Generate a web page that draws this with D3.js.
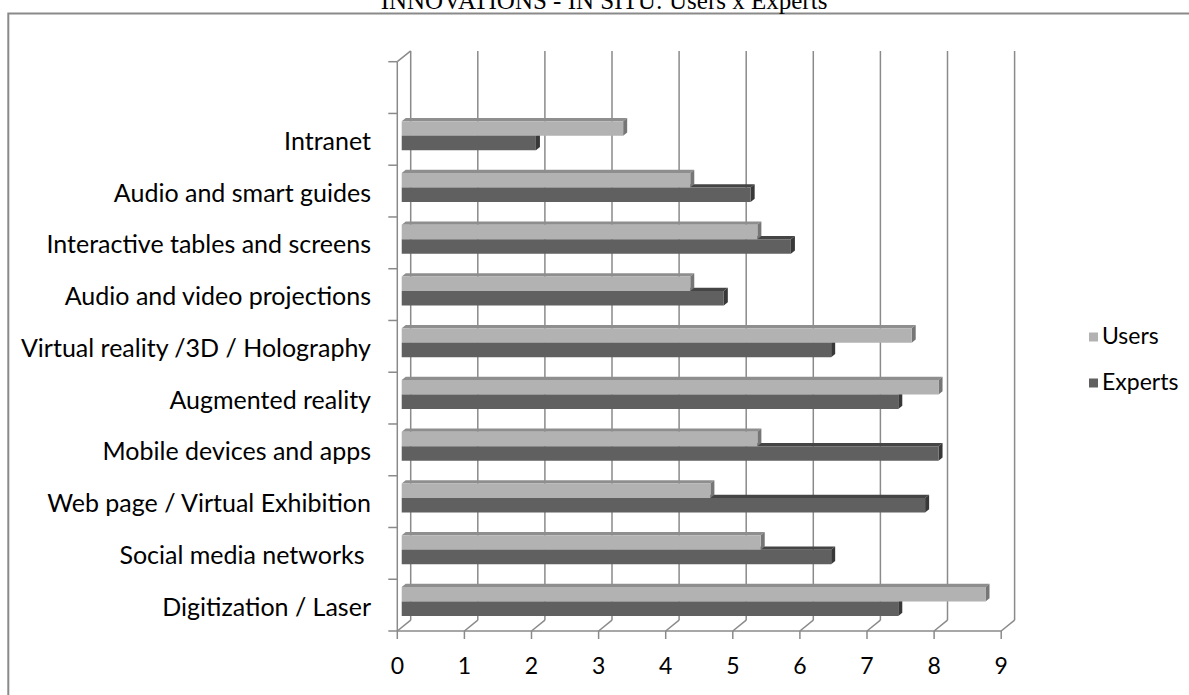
<!DOCTYPE html>
<html>
<head>
<meta charset="utf-8">
<script src="https://cdn.jsdelivr.net/npm/d3@7/dist/d3.min.js"></script>
<style>
body { margin: 0; background: #fff; }
text { font-family: Lato, "Noto Sans", sans-serif; fill: #000; }
</style>
</head>
<body>
<div class="displayArea"></div>
<script>
// data, top to bottom
var categories = ["Intranet", "Audio and smart guides", "Interactive tables and screens",
    "Audio and video projections", "Virtual reality /3D / Holography", "Augmented reality",
    "Mobile devices and apps", "Web page / Virtual Exhibition", "Social media networks ",
    "Digitization / Laser"];
var users   = [3.3, 4.3, 5.3, 4.3, 7.6, 8.0, 5.3, 4.6, 5.35, 8.7];
var experts = [2.0, 5.2, 5.8, 4.8, 6.4, 7.4, 8.0, 7.8, 6.4, 7.4];
var seriesNames = ["Users", "Experts"];
var xTicks = [0, 1, 2, 3, 4, 5, 6, 7, 8, 9];
var title = "INNOVATIONS - IN SITU: Users x Experts";

var width = 1189,
    height = 695,
    DX = 13.4, DY = -10.8, // depth of the 3d box
    d1 = 0.33, d2 = 0.63;  // front / back of the bars inside the box

var front = { "Users": "#b2b2b2", "Experts": "#606060" },
    topC  = { "Users": "#8e8e8e", "Experts": "#454545" },
    sideC = { "Users": "#767676", "Experts": "#383838" };
var gridColor = "#8a8a8a";

var slots = [""].concat(categories); // excel left an empty slot at the top

var x = d3.scaleLinear().domain([0, 9]).range([397.3, 1001.2]);
var y = d3.scaleBand().domain(slots).range([61.7, 631])
    .paddingInner(0.44).paddingOuter(0.22);
var inner = d3.scaleBand().domain(seriesNames).range([0, y.bandwidth()]);

function px(v, d) { return x(v) + d * DX; }
function py(yy, d) { return yy + d * DY; }

var yTop = y.range()[0], yBot = y.range()[1];

var svg = d3.select(".displayArea").append("svg")
    .attr("width", width)
    .attr("height", height);

// outer frame
svg.append("rect")
    .attr("x", 8.3).attr("y", 13.5)
    .attr("width", 1200).attr("height", 700)
    .attr("fill", "none").attr("stroke", gridColor).attr("stroke-width", 2);

svg.append("text") // title is cut by the top edge in the original too
    .attr("x", 604).attr("y", 8.5)
    .attr("text-anchor", "middle")
    .style("font-family", "'Liberation Serif', 'DejaVu Serif', serif")
    .style("font-size", "25px")
    .text(title);

var walls = svg.append("g")
    .attr("fill", "none")
    .attr("stroke", gridColor)
    .attr("stroke-width", 1.5);

// back wall gridlines
walls.selectAll(".grid").data(xTicks).enter().append("line")
    .attr("x1", function (d) { return px(d, 1); })
    .attr("x2", function (d) { return px(d, 1); })
    .attr("y1", py(yTop, 1))
    .attr("y2", py(yBot, 1));

// floor diagonals
walls.selectAll(".floor").data(xTicks).enter().append("line")
    .attr("x1", function (d) { return x(d); })
    .attr("y1", yBot)
    .attr("x2", function (d) { return px(d, 1); })
    .attr("y2", py(yBot, 1));

// value ticks below the floor
walls.selectAll(".vtick").data(xTicks).enter().append("line")
    .attr("x1", function (d) { return x(d); })
    .attr("x2", function (d) { return x(d); })
    .attr("y1", yBot).attr("y2", yBot + 8);

walls.append("line") // front floor edge
    .attr("x1", x(0)).attr("x2", x(9))
    .attr("y1", yBot).attr("y2", yBot);

walls.append("line") // left wall front edge
    .attr("x1", x(0)).attr("x2", x(0))
    .attr("y1", yTop).attr("y2", yBot);

walls.append("line") // left wall top
    .attr("x1", x(0)).attr("y1", yTop)
    .attr("x2", px(0, 1)).attr("y2", py(yTop, 1));

// category ticks on the left
walls.selectAll(".ctick").data(d3.range(slots.length + 1)).enter().append("line")
    .attr("x1", x(0) - 9).attr("x2", x(0))
    .attr("y1", function (i) { return yTop + i * y.step(); })
    .attr("y2", function (i) { return yTop + i * y.step(); });

// bars as little boxes
var bars = [];
categories.forEach(function (c, i) {
    bars.push({ cat: c, s: "Experts", v: experts[i] });
    bars.push({ cat: c, s: "Users", v: users[i] });
});

function pts(a) { return a.map(function (p) { return p.join(","); }).join(" "); }

var g = svg.selectAll(".bar").data(bars).enter().append("g");

g.each(function (b) {
    var y0 = y(b.cat) + inner(b.s),
        y1 = y0 + inner.bandwidth(),
        el = d3.select(this);
    el.append("polygon") // top face
        .attr("points", pts([[px(0, d1), py(y0, d1)], [px(b.v, d1), py(y0, d1)],
            [px(b.v, d2), py(y0, d2)], [px(0, d2), py(y0, d2)]]))
        .attr("fill", topC[b.s]);
    el.append("polygon") // end face
        .attr("points", pts([[px(b.v, d1), py(y0, d1)], [px(b.v, d2), py(y0, d2)],
            [px(b.v, d2), py(y1, d2)], [px(b.v, d1), py(y1, d1)]]))
        .attr("fill", sideC[b.s]);
    el.append("polygon") // front face
        .attr("points", pts([[px(0, d1), py(y0, d1)], [px(b.v, d1), py(y0, d1)],
            [px(b.v, d1), py(y1, d1)], [px(0, d1), py(y1, d1)]]))
        .attr("fill", front[b.s]);
});

// category labels
svg.selectAll(".clabel").data(categories).enter().append("text")
    .attr("x", 371)
    .attr("y", function (d) { return y(d) + y.bandwidth() / 2; })
    .attr("dy", "0.42em")
    .attr("text-anchor", "end")
    .style("font-size", "25px")
    .style("white-space", "pre")
    .text(function (d) { return d; });

// value labels
svg.selectAll(".xlabel").data(xTicks).enter().append("text")
    .attr("x", function (d) { return x(d); })
    .attr("y", yBot + 43)
    .attr("text-anchor", "middle")
    .style("font-size", "23px")
    .text(function (d) { return d; });

// legend
var leg = svg.selectAll(".legend").data(seriesNames).enter().append("g")
    .attr("transform", function (d, i) { return "translate(1089," + (337 + i * 46) + ")"; });

leg.append("rect")
    .attr("x", 0).attr("y", -4.5)
    .attr("width", 9).attr("height", 9)
    .attr("fill", function (d) { return front[d]; });

leg.append("text")
    .attr("x", 13).attr("y", 0)
    .attr("dy", "0.3em")
    .style("font-size", "23px")
    .text(function (d) { return d; });
</script>
</body>
</html>
